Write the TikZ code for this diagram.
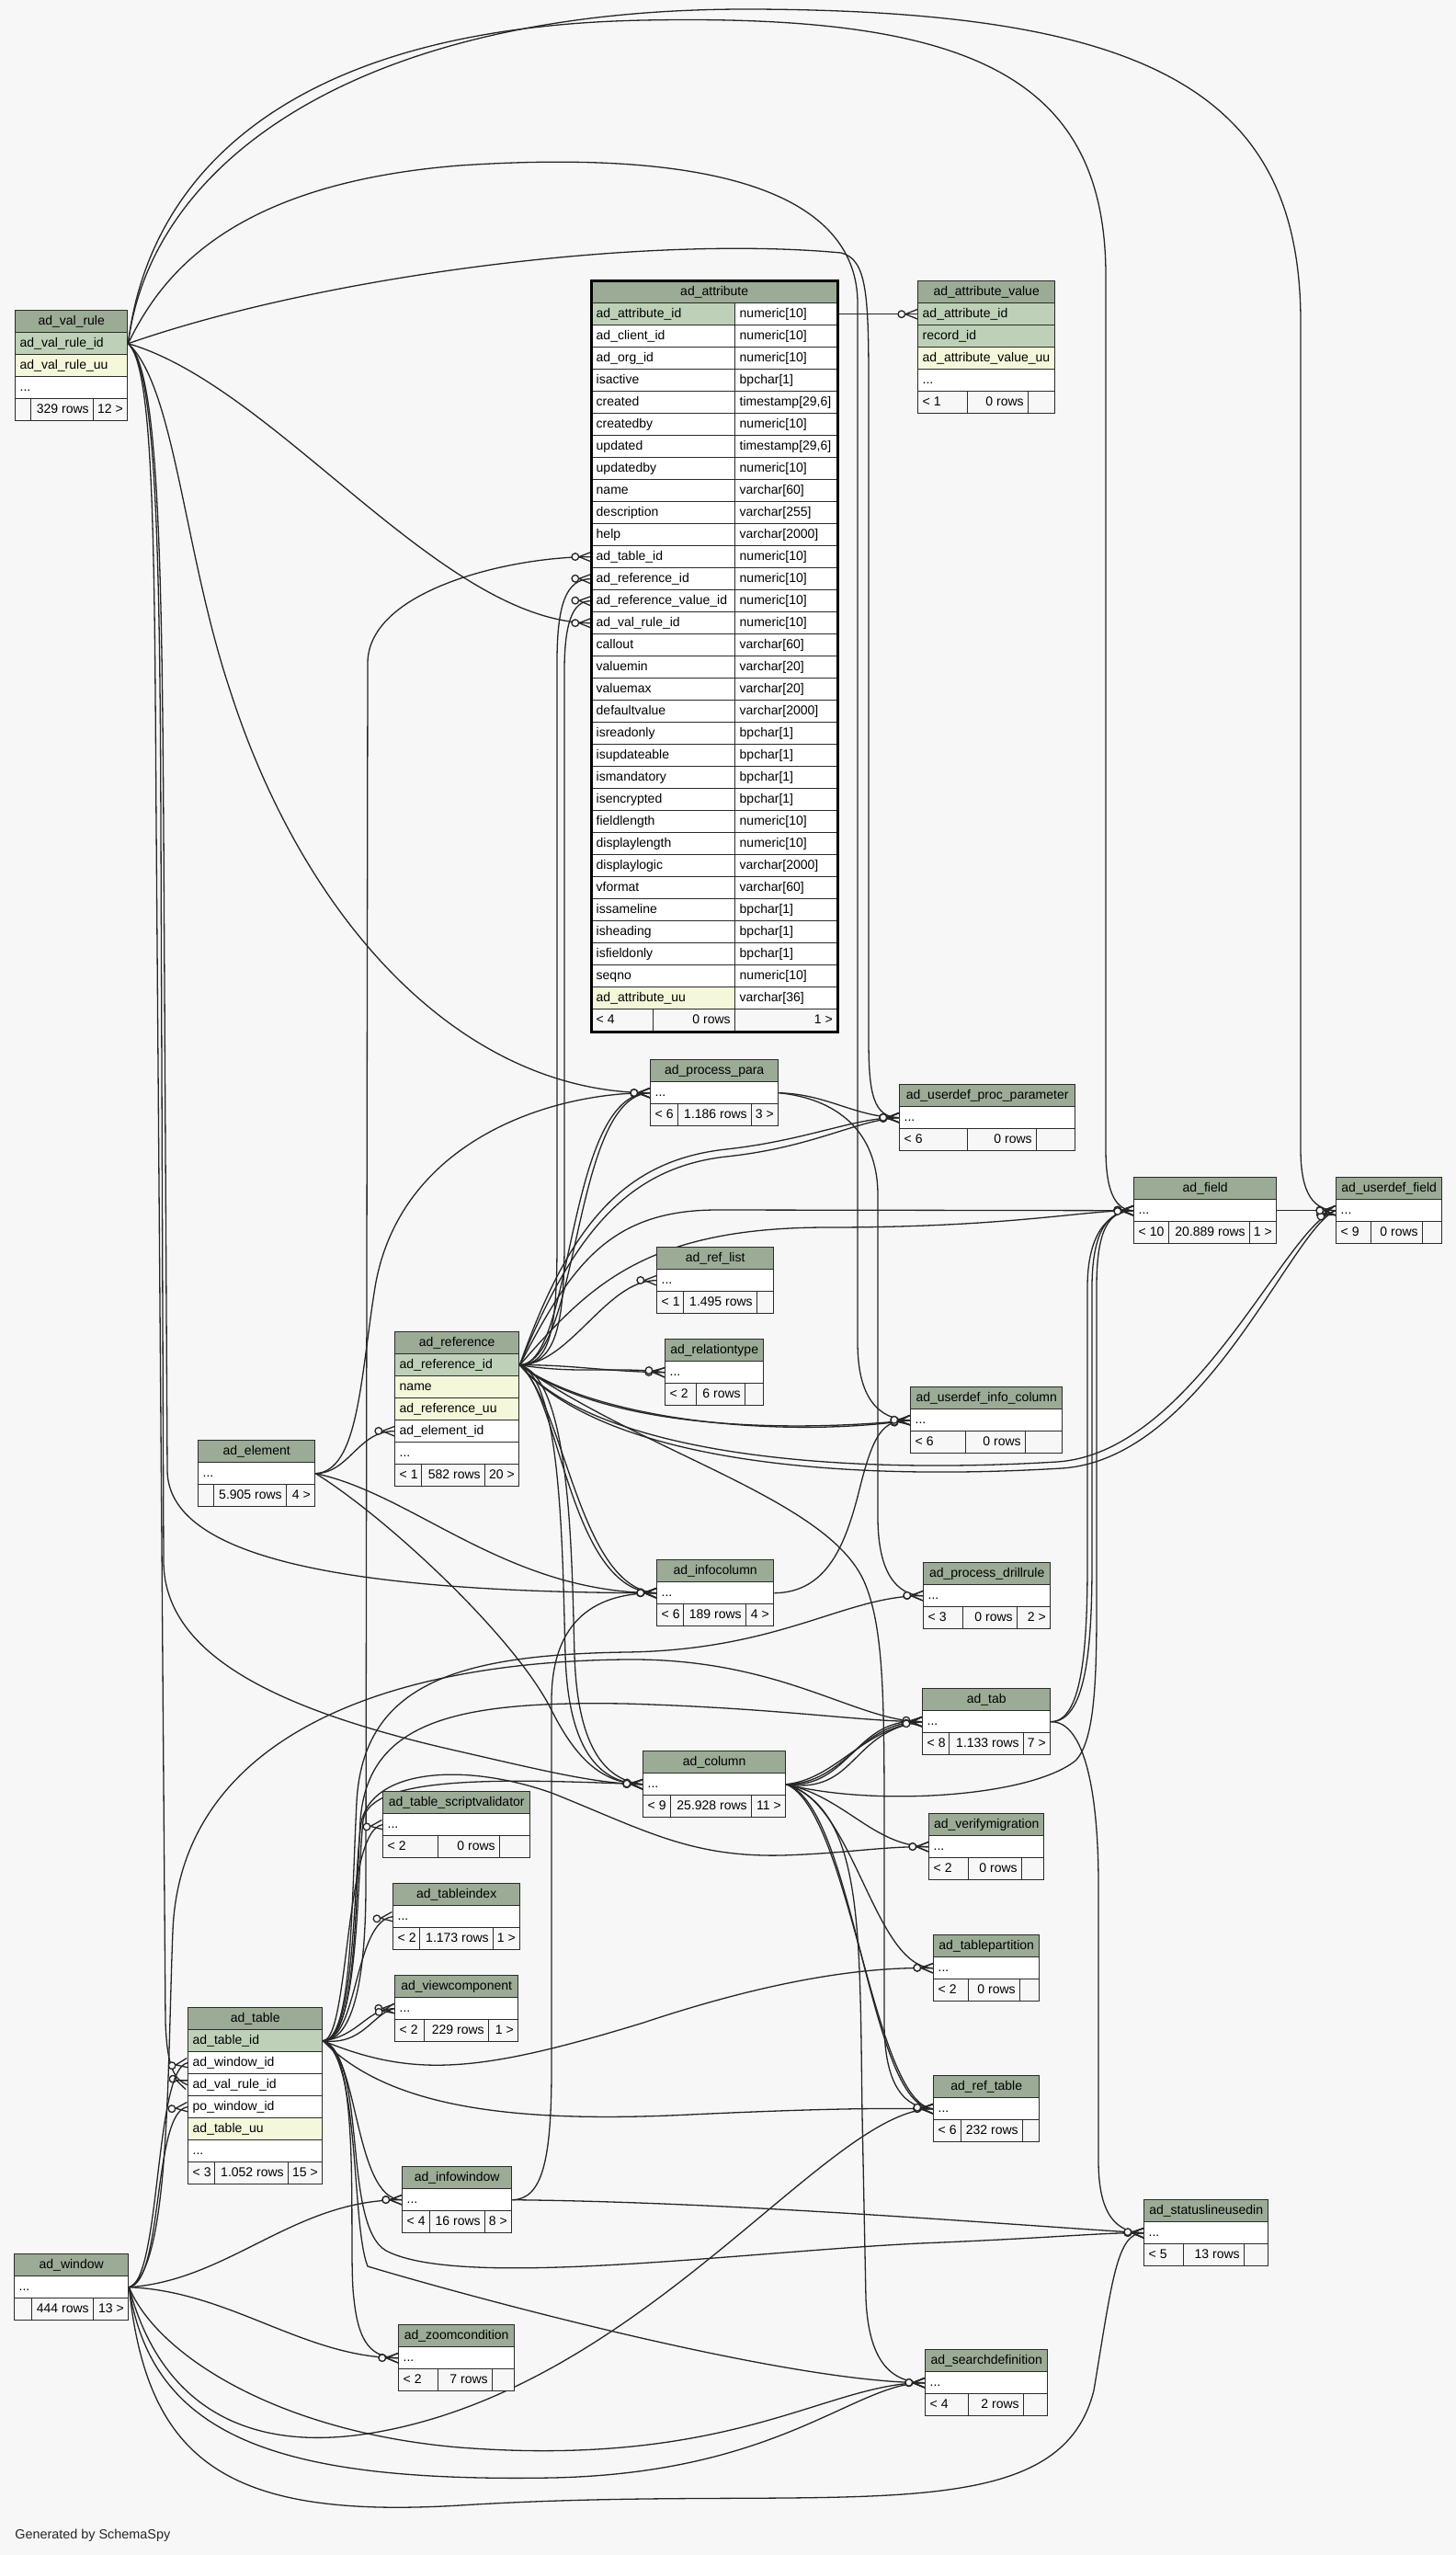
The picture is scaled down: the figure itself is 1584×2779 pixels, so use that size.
\documentclass[tikz,border=0pt]{standalone}
\usepackage{fontspec}
\newfontfamily\tabfontfam{Liberation Sans}
\newcommand\tabfont{\tabfontfam\fontsize{7}{8}\selectfont}
\usetikzlibrary{arrows.meta}
\definecolor{bgc}{HTML}{F7F7F7}
\definecolor{hdrc}{HTML}{9BAB96}
\definecolor{pkc}{HTML}{BED1B8}
\definecolor{uqc}{HTML}{F4F7DA}
\definecolor{bdr}{HTML}{2B2B2B}
\pgfdeclarearrow{
  name=CrowO,
  setup code={
    \pgfarrowssettipend{0pt}
    \pgfarrowssetlineend{0pt}
    \pgfarrowssetbackend{-11pt}
  },
  drawing code={
    \pgfsetdash{}{0pt}
    \pgfpathmoveto{\pgfqpoint{0pt}{2.6pt}}
    \pgfpathlineto{\pgfqpoint{-6.5pt}{0pt}}
    \pgfpathlineto{\pgfqpoint{0pt}{-2.6pt}}
    \pgfusepathqstroke
    \pgfsetfillcolor{bgc}
    \pgfpathcircle{\pgfqpoint{-8.6pt}{0pt}}{1.9pt}
    \pgfusepathqfillstroke
  },
}
\pgfdeclarelayer{edgelayer}
\pgfsetlayers{edgelayer,main}
\tikzset{
  cellb/.style={draw=bdr, line width=0.7pt, anchor=north west, inner xsep=2.5pt, inner ysep=0pt,
    minimum height=12pt, font=\tabfont, text height=5.2pt, text depth=1.5pt},
  hdrcell/.style={cellb, fill=hdrc, align=center},
  edge/.style={draw=black!85, line width=0.65pt},
  fk/.style={edge, -CrowO},
}
\newcommand{\tblhead}[5]{%
  \pgfmathsetlengthmacro\mw{(#4)*0.5pt}%
  \node[hdrcell, minimum width=\mw] (#1) at (#2,#3) {#5};}
\newcommand{\trow}[6]{%
  \pgfmathsetlengthmacro\mw{(#4)*0.5pt}%
  \pgfmathsetlengthmacro\tw{(#4-10)*0.5pt}%
  \node[cellb, fill=#5, minimum width=\mw] (#1) at (#2,#3) {\makebox[\tw][l]{#6}};}
\newcommand{\fcell}[6]{%
  \pgfmathsetlengthmacro\mw{(#4)*0.5pt}%
  \pgfmathsetlengthmacro\tw{(#4-10)*0.5pt}%
  \node[cellb, fill=bgc, minimum width=\mw] (#1) at (#2,#3) {\makebox[\tw][#5]{#6}};}
\newcommand{\smalltab}[5]{%
  \tblhead{#1-h}{#2}{#3}{#4}{#5}%
  \trow{#1-r}{#2}{#3+24}{#4}{white}{...}}
\newcommand{\tfoot}[9]{%
  \fcell{#1-f1}{#2}{#3}{#4-#2}{l}{#7}%
  \fcell{#1-f2}{#4}{#3}{#5-#4}{r}{#8}%
  \fcell{#1-f3}{#5}{#3}{#6-#5}{r}{#9}}
\newcommand{\arow}[4]{%
  \pgfmathsetmacro\yy{329+24*#1}%
  \trow{att-#1}{643}{\yy}{156}{#4}{#2}%
  \trow{att-#1t}{799}{\yy}{111}{white}{#3}}

\begin{document}
\begin{tikzpicture}[x=0.5pt,y=-0.5pt]
\begin{pgfonlayer}{edgelayer}
\fill[bgc] (0,0) rectangle (1584,2779);
\end{pgfonlayer}
\useasboundingbox (0,0) rectangle (1584,2779);

% ad_val_rule
\tblhead{vr-h}{16}{337}{122}{ad\_val\_rule}
\trow{vr-1}{16}{361}{122}{pkc}{ad\_val\_rule\_id}
\trow{vr-2}{16}{385}{122}{uqc}{ad\_val\_rule\_uu}
\trow{vr-3}{16}{409}{122}{white}{...}
\tfoot{vr}{16}{433}{33}{101}{138}{}{329 rows}{12 >}

% ad_attribute
\tblhead{att-h}{643}{305}{267}{ad\_attribute}
\arow{0}{ad\_attribute\_id}{numeric[10]}{pkc}
\arow{1}{ad\_client\_id}{numeric[10]}{white}
\arow{2}{ad\_org\_id}{numeric[10]}{white}
\arow{3}{isactive}{bpchar[1]}{white}
\arow{4}{created}{timestamp[29,6]}{white}
\arow{5}{createdby}{numeric[10]}{white}
\arow{6}{updated}{timestamp[29,6]}{white}
\arow{7}{updatedby}{numeric[10]}{white}
\arow{8}{name}{varchar[60]}{white}
\arow{9}{description}{varchar[255]}{white}
\arow{10}{help}{varchar[2000]}{white}
\arow{11}{ad\_table\_id}{numeric[10]}{white}
\arow{12}{ad\_reference\_id}{numeric[10]}{white}
\arow{13}{ad\_reference\_value\_id}{numeric[10]}{white}
\arow{14}{ad\_val\_rule\_id}{numeric[10]}{white}
\arow{15}{callout}{varchar[60]}{white}
\arow{16}{valuemin}{varchar[20]}{white}
\arow{17}{valuemax}{varchar[20]}{white}
\arow{18}{defaultvalue}{varchar[2000]}{white}
\arow{19}{isreadonly}{bpchar[1]}{white}
\arow{20}{isupdateable}{bpchar[1]}{white}
\arow{21}{ismandatory}{bpchar[1]}{white}
\arow{22}{isencrypted}{bpchar[1]}{white}
\arow{23}{fieldlength}{numeric[10]}{white}
\arow{24}{displaylength}{numeric[10]}{white}
\arow{25}{displaylogic}{varchar[2000]}{white}
\arow{26}{vformat}{varchar[60]}{white}
\arow{27}{issameline}{bpchar[1]}{white}
\arow{28}{isheading}{bpchar[1]}{white}
\arow{29}{isfieldonly}{bpchar[1]}{white}
\arow{30}{seqno}{numeric[10]}{white}
\arow{31}{ad\_attribute\_uu}{varchar[36]}{uqc}
\tfoot{att}{643}{1097}{710}{799}{910}{< 4}{0 rows}{1 >}
\draw[line width=1.5pt, draw=black] (att-h.north west) rectangle (att-f3.south east);

% ad_attribute_value
\tblhead{av-h}{998}{305}{149}{ad\_attribute\_value}
\trow{av-1}{998}{329}{149}{pkc}{ad\_attribute\_id}
\trow{av-2}{998}{353}{149}{pkc}{record\_id}
\trow{av-3}{998}{377}{149}{uqc}{ad\_attribute\_value\_uu}
\trow{av-4}{998}{401}{149}{white}{...}
\tfoot{av}{998}{425}{1052}{1118}{1147}{< 1}{0 rows}{}

% simple tables
\smalltab{pp}{707}{1152}{139}{ad\_process\_para}
\tfoot{pp}{707}{1200}{737}{817}{846}{< 6}{1.186 rows}{3 >}
\smalltab{upp}{978}{1179}{191}{ad\_userdef\_proc\_parameter}
\tfoot{upp}{978}{1227}{1052}{1127}{1169}{< 6}{0 rows}{}
\smalltab{fld}{1233}{1280}{155}{ad\_field}
\tfoot{fld}{1233}{1328}{1271}{1359}{1388}{< 10}{20.889 rows}{1 >}
\smalltab{uf}{1453}{1280}{115}{ad\_userdef\_field}
\tfoot{uf}{1453}{1328}{1491}{1547}{1568}{< 9}{0 rows}{}
\smalltab{rl}{714}{1356}{127}{ad\_ref\_list}
\tfoot{rl}{714}{1404}{743}{823}{841}{< 1}{1.495 rows}{}
\smalltab{rt}{723}{1456}{107}{ad\_relationtype}
\tfoot{rt}{723}{1504}{757}{810}{830}{< 2}{6 rows}{}
\smalltab{el}{215}{1566}{127}{ad\_element}
\tfoot{el}{215}{1614}{232}{311}{342}{}{5.905 rows}{4 >}
\smalltab{uic}{990}{1508}{165}{ad\_userdef\_info\_column}
\tfoot{uic}{990}{1556}{1050}{1115}{1155}{< 6}{0 rows}{}
\smalltab{ic}{714}{1696}{127}{ad\_infocolumn}
\tfoot{ic}{714}{1744}{743}{811}{841}{< 6}{189 rows}{4 >}
\smalltab{pd}{1004}{1699}{138}{ad\_process\_drillrule}
\tfoot{pd}{1004}{1747}{1047}{1106}{1142}{< 3}{0 rows}{2 >}
\smalltab{tab}{1003}{1836}{139}{ad\_tab}
\tfoot{tab}{1003}{1884}{1032}{1113}{1142}{< 8}{1.133 rows}{7 >}
\smalltab{col}{699}{1904}{155}{ad\_column}
\tfoot{col}{699}{1952}{729}{817}{854}{< 9}{25.928 rows}{11 >}
\smalltab{vm}{1010}{1972}{125}{ad\_verifymigration}
\tfoot{vm}{1010}{2020}{1053}{1111}{1135}{< 2}{0 rows}{}
\smalltab{tsv}{416}{1948}{160}{ad\_table\_scriptvalidator}
\tfoot{tsv}{416}{1996}{476}{543}{576}{< 2}{0 rows}{}
\smalltab{ti}{427}{2048}{138}{ad\_tableindex}
\tfoot{ti}{427}{2096}{456}{536}{565}{< 2}{1.173 rows}{1 >}
\smalltab{vc}{429}{2148}{134}{ad\_viewcomponent}
\tfoot{vc}{429}{2196}{461}{531}{563}{< 2}{229 rows}{1 >}
\smalltab{tp}{1015}{2104}{115}{ad\_tablepartition}
\tfoot{tp}{1015}{2152}{1053}{1109}{1130}{< 2}{0 rows}{}
\smalltab{rtb}{1015}{2257}{115}{ad\_ref\_table}
\tfoot{rtb}{1015}{2305}{1045}{1112}{1130}{< 6}{232 rows}{}
\smalltab{iw}{437}{2356}{119}{ad\_infowindow}
\tfoot{iw}{437}{2404}{467}{527}{556}{< 4}{16 rows}{8 >}
\smalltab{sl}{1244}{2392}{135}{ad\_statuslineusedin}
\tfoot{sl}{1244}{2440}{1287}{1353}{1379}{< 5}{13 rows}{}
\smalltab{win}{15}{2451}{124}{ad\_window}
\tfoot{win}{15}{2499}{34}{101}{139}{}{444 rows}{13 >}
\smalltab{zc}{433}{2528}{126}{ad\_zoomcondition}
\tfoot{zc}{433}{2576}{476}{535}{559}{< 2}{7 rows}{}
\smalltab{sd}{1006}{2555}{133}{ad\_searchdefinition}
\tfoot{sd}{1006}{2603}{1053}{1113}{1139}{< 4}{2 rows}{}

% ad_reference
\tblhead{ref-h}{429}{1448}{135}{ad\_reference}
\trow{ref-1}{429}{1472}{135}{pkc}{ad\_reference\_id}
\trow{ref-2}{429}{1496}{135}{uqc}{name}
\trow{ref-3}{429}{1520}{135}{uqc}{ad\_reference\_uu}
\trow{ref-4}{429}{1544}{135}{white}{ad\_element\_id}
\trow{ref-5}{429}{1568}{135}{white}{...}
\tfoot{ref}{429}{1592}{458}{527}{564}{< 1}{582 rows}{20 >}

% ad_table
\tblhead{tbl-h}{204}{2183}{146}{ad\_table}
\trow{tbl-1}{204}{2207}{146}{pkc}{ad\_table\_id}
\trow{tbl-2}{204}{2231}{146}{white}{ad\_window\_id}
\trow{tbl-3}{204}{2255}{146}{white}{ad\_val\_rule\_id}
\trow{tbl-4}{204}{2279}{146}{white}{po\_window\_id}
\trow{tbl-5}{204}{2303}{146}{uqc}{ad\_table\_uu}
\trow{tbl-6}{204}{2327}{146}{white}{...}
\tfoot{tbl}{204}{2351}{233}{313}{350}{< 3}{1.052 rows}{15 >}

\node[font=\tabfontfam\fontsize{7.2}{8}\selectfont, anchor=west, inner sep=0pt, text=black!85] (gen) at (16,2758) {Generated by SchemaSpy};

\begin{pgfonlayer}{edgelayer}
% ad_attribute -> ad_attribute_value
\draw[fk] (att-0t.east) -- (av-1.west);
% ad_val_rule
\draw[fk] (vr-1.east) .. controls (300,420) and (480,677) .. (att-14.west);
\draw[fk] (vr-1.east) .. controls (350,300) and (700,255) .. (915,275) .. controls (943,282) and (945,320) .. (945,420) -- (945,1130) .. controls (945,1190) and (950,1215) .. (upp-r.west);
\draw[fk] (vr-1.east) .. controls (175,300) and (250,200) .. (500,180) .. controls (800,160) and (933,220) .. (933,330) -- (933,1460) .. controls (933,1520) and (955,1544) .. (uic-r.west);
\draw[fk] (vr-1.east) .. controls (160,200) and (300,30) .. (700,22) .. controls (1050,15) and (1203,80) .. (1203,300) -- (1203,1250) .. controls (1203,1300) and (1215,1316) .. (fld-r.west);
\draw[fk] (vr-1.east) .. controls (165,170) and (400,8) .. (820,10) .. controls (1250,12) and (1415,100) .. (1415,350) -- (1415,1250) .. controls (1415,1300) and (1430,1316) .. (uf-r.west);
\draw[fk] (vr-1.east) .. controls (190,420) and (200,600) .. (250,750) .. controls (330,1000) and (500,1188) .. (pp-r.west);
\draw[fk] (vr-1.east) .. controls (172,400) and (176,600) .. (178,900) -- (182,1600) .. controls (184,1700) and (400,1732) .. (ic-r.west);
\draw[fk] (vr-1.east) .. controls (170,400) and (174,600) .. (175,900) -- (178,1700) .. controls (180,1800) and (300,1860) .. (500,1905) .. controls (600,1928) and (650,1940) .. (col-r.west);
\draw[fk] (vr-1.east) .. controls (168,400) and (168,600) .. (170,900) -- (180,2200) .. controls (182,2250) and (190,2262) .. (tbl-3.west);
% ad_reference
\draw[fk] (ref-1.east) .. controls (600,1484) and (606,1440) .. (606,1350) -- (606,720) .. controls (606,660) and (615,629) .. (att-12.west);
\draw[fk] (ref-1.east) .. controls (605,1484) and (614,1440) .. (614,1350) -- (614,730) .. controls (614,680) and (622,653) .. (att-13.west);
\draw[fk] (ref-1.east) .. controls (625,1484) and (615,1188) .. (pp-r.west);
\draw[fk] (ref-1.east) .. controls (632,1480) and (622,1192) .. (pp-r.west);
\draw[fk] (ref-1.east) .. controls (620,1330) and (680,1262) .. (790,1250) .. controls (880,1240) and (930,1215) .. (upp-r.west);
\draw[fk] (ref-1.east) .. controls (625,1338) and (685,1270) .. (790,1258) .. controls (885,1248) and (932,1218) .. (upp-r.west);
\draw[fk] (ref-1.east) .. controls (620,1380) and (660,1316) .. (780,1316) -- (fld-r.west);
\draw[fk] (ref-1.east) .. controls (640,1400) and (700,1335) .. (900,1335) .. controls (1100,1335) and (1180,1316) .. (fld-r.west);
\draw[fk] (ref-1.east) .. controls (650,1580) and (900,1605) .. (1150,1590) .. controls (1300,1580) and (1400,1330) .. (uf-r.west);
\draw[fk] (ref-1.east) .. controls (655,1588) and (905,1612) .. (1155,1597) .. controls (1310,1587) and (1405,1336) .. (uf-r.west);
\draw[fk] (ref-1.east) .. controls (620,1484) and (660,1392) .. (rl-r.west);
\draw[fk] (ref-1.east) .. controls (620,1484) and (660,1492) .. (rt-r.west);
\draw[fk] (ref-1.east) .. controls (630,1495) and (670,1486) .. (rt-r.west);
\draw[fk] (ref-1.east) .. controls (650,1545) and (850,1565) .. (uic-r.west);
\draw[fk] (ref-1.east) .. controls (660,1555) and (860,1558) .. (uic-r.west);
\draw[fk] (ref-1.east) .. controls (610,1520) and (620,1732) .. (ic-r.west);
\draw[fk] (ref-1.east) .. controls (615,1530) and (630,1728) .. (ic-r.west);
\draw[fk] (ref-1.east) .. controls (612,1500) and (612,1700) .. (615,1800) .. controls (618,1900) and (650,1940) .. (col-r.west);
\draw[fk] (ref-1.east) .. controls (622,1500) and (622,1700) .. (625,1800) .. controls (628,1895) and (655,1936) .. (col-r.west);
\draw[fk] (ref-1.east) .. controls (700,1580) and (900,1630) .. (940,1720) .. controls (962,1770) and (962,1850) .. (962,2000) -- (962,2200) .. controls (962,2270) and (985,2293) .. (rtb-r.west);
% ad_element
\draw[fk] (el-r.east) .. controls (380,1602) and (390,1556) .. (ref-4.west);
\draw[fk] (el-r.east) .. controls (390,1600) and (392,1500) .. (408,1400) .. controls (435,1240) and (600,1188) .. (pp-r.west);
\draw[fk] (el-r.east) .. controls (450,1625) and (550,1732) .. (ic-r.west);
\draw[fk] (el-r.east) .. controls (420,1650) and (560,1780) .. (600,1860) .. controls (630,1920) and (660,1940) .. (col-r.west);
% ad_table
\draw[fk] (tbl-1.east) .. controls (385,2219) and (398,2150) .. (398,2050) -- (400,720) .. controls (402,640) and (560,605) .. (att-11.west);
\draw[fk] (tbl-1.east) .. controls (385,2219) and (386,2100) .. (392,1980) .. controls (400,1870) and (500,1850) .. (680,1853) .. controls (850,1858) and (930,1872) .. (tab-r.west);
\draw[fk] (tbl-1.east) .. controls (383,2219) and (382,2080) .. (388,1960) .. controls (395,1830) and (500,1800) .. (680,1797) .. controls (850,1795) and (920,1735) .. (pd-r.west);
\draw[fk] (tbl-1.east) .. controls (390,2219) and (388,2050) .. (395,1980) .. controls (402,1930) and (550,1935) .. (col-r.west);
\draw[fk] (tbl-1.east) .. controls (380,2219) and (375,1990) .. (tsv-r.west);
\draw[fk] (tbl-1.east) .. controls (390,2219) and (385,2090) .. (ti-r.west);
\draw[fk] (tbl-1.east) .. controls (390,2215) and (400,2184) .. (vc-r.west);
\draw[fk] (tbl-1.east) .. controls (395,2225) and (405,2190) .. (vc-r.west);
\draw[fk] (tbl-1.east) .. controls (386,2219) and (384,2060) .. (392,1990) .. controls (396,1925) and (500,1915) .. (600,1950) .. controls (700,1990) and (750,2020) .. (850,2018) .. controls (920,2016) and (960,2008) .. (vm-r.west);
\draw[fk] (tbl-1.east) .. controls (450,2260) and (520,2255) .. (700,2200) .. controls (850,2150) and (950,2139) .. (tp-r.west);
\draw[fk] (tbl-1.east) .. controls (420,2290) and (550,2310) .. (750,2300) .. controls (900,2293) and (960,2293) .. (rtb-r.west);
\draw[fk] (tbl-1.east) .. controls (390,2230) and (385,2392) .. (iw-r.west);
\draw[fk] (tbl-1.east) .. controls (395,2230) and (378,2450) .. (385,2500) .. controls (390,2550) and (405,2564) .. (zc-r.west);
\draw[fk] (tbl-1.east) .. controls (392,2240) and (382,2420) .. (400,2465) .. controls (500,2495) and (850,2591) .. (sd-r.west);
\draw[fk] (tbl-1.east) .. controls (400,2240) and (372,2420) .. (420,2448) .. controls (500,2490) and (800,2450) .. (1000,2440) .. controls (1150,2434) and (1200,2428) .. (sl-r.west);
% ad_window
\draw[fk] (win-r.east) .. controls (175,2480) and (168,2250) .. (tbl-2.west);
\draw[fk] (win-r.east) .. controls (178,2482) and (166,2296) .. (tbl-4.west);
\draw[fk] (win-r.east) .. controls (185,2470) and (182,2250) .. (188,2100) .. controls (196,1900) and (400,1808) .. (680,1805) .. controls (850,1803) and (930,1872) .. (tab-r.west);
\draw[fk] (win-r.east) .. controls (250,2480) and (320,2392) .. (iw-r.west);
\draw[fk] (win-r.east) .. controls (250,2492) and (330,2564) .. (zc-r.west);
\draw[fk] (win-r.east) .. controls (170,2600) and (250,2670) .. (400,2647) .. controls (700,2600) and (900,2293) .. (rtb-r.west);
\draw[fk] (win-r.east) .. controls (170,2560) and (300,2645) .. (500,2662) .. controls (800,2685) and (900,2591) .. (sd-r.west);
\draw[fk] (win-r.east) .. controls (165,2650) and (300,2700) .. (600,2695) .. controls (850,2690) and (930,2591) .. (sd-r.west);
\draw[fk] (win-r.east) .. controls (160,2680) and (250,2740) .. (500,2725) .. controls (900,2700) and (1150,2760) .. (1190,2600) .. controls (1210,2480) and (1215,2428) .. (sl-r.west);
% ad_column
\draw[fk] (col-r.east) .. controls (920,1940) and (935,1872) .. (tab-r.west);
\draw[fk] (col-r.east) .. controls (925,1946) and (930,1866) .. (tab-r.west);
\draw[fk] (col-r.east) .. controls (910,1935) and (940,1878) .. (tab-r.west);
\draw[fk] (col-r.east) .. controls (932,1952) and (925,1882) .. (tab-r.west);
\draw[fk] (col-r.east) .. controls (920,1955) and (950,2008) .. (vm-r.west);
\draw[fk] (col-r.east) .. controls (950,1965) and (1120,1955) .. (1170,1915) .. controls (1195,1890) and (1193,1800) .. (1193,1700) -- (1193,1400) .. controls (1193,1340) and (1205,1316) .. (fld-r.west);
\draw[fk] (col-r.east) .. controls (930,1960) and (950,2139) .. (tp-r.west);
\draw[fk] (col-r.east) .. controls (930,1965) and (945,2293) .. (rtb-r.west);
\draw[fk] (col-r.east) .. controls (925,1970) and (950,2288) .. (rtb-r.west);
\draw[fk] (col-r.east) .. controls (940,1970) and (935,2100) .. (938,2300) -- (942,2500) .. controls (945,2570) and (970,2591) .. (sd-r.west);
% ad_tab
\draw[fk] (tab-r.east) .. controls (1180,1872) and (1188,1800) .. (1188,1700) -- (1188,1400) .. controls (1188,1340) and (1205,1316) .. (fld-r.west);
\draw[fk] (tab-r.east) .. controls (1176,1872) and (1183,1800) .. (1183,1700) -- (1183,1400) .. controls (1183,1345) and (1203,1318) .. (fld-r.west);
\draw[fk] (tab-r.east) .. controls (1180,1872) and (1195,1950) .. (1195,2050) -- (1195,2350) .. controls (1195,2410) and (1215,2428) .. (sl-r.west);
% ad_process_para
\draw[fk] (pp-r.east) .. controls (900,1190) and (930,1215) .. (upp-r.west);
\draw[fk] (pp-r.east) .. controls (910,1195) and (955,1230) .. (955,1300) -- (955,1650) .. controls (955,1710) and (975,1735) .. (pd-r.west);
% ad_infocolumn
\draw[fk] (ic-r.east) .. controls (900,1732) and (920,1680) .. (935,1620) .. controls (950,1560) and (960,1544) .. (uic-r.west);
% ad_infowindow
\draw[fk] (iw-r.east) .. controls (590,2392) and (600,2350) .. (600,2250) -- (600,1850) .. controls (600,1760) and (650,1732) .. (ic-r.west);
\draw[fk] (iw-r.east) .. controls (800,2395) and (1100,2420) .. (sl-r.west);
% ad_field
\draw[fk] (fld-r.east) -- (uf-r.west);
\end{pgfonlayer}
\end{tikzpicture}
\end{document}
